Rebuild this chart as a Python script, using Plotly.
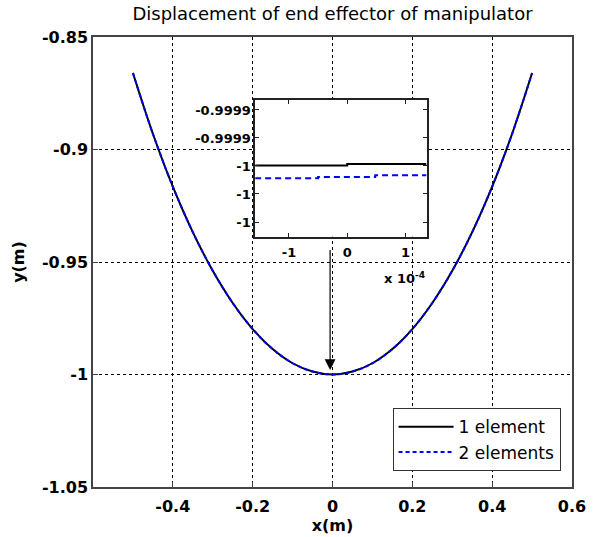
import plotly.graph_objects as go

# ---- data ----
x_main = [-0.50, -0.45, -0.40, -0.35, -0.30, -0.25, -0.20, -0.15, -0.10, -0.05, 0.00,
          0.05, 0.10, 0.15, 0.20, 0.25, 0.30, 0.35, 0.40, 0.45, 0.50]
y_one = [-0.8660, -0.8930, -0.9165, -0.9367, -0.9539, -0.9682, -0.9798, -0.9887, -0.9950, -0.9987, -1.0000,
         -0.9987, -0.9950, -0.9887, -0.9798, -0.9682, -0.9539, -0.9367, -0.9165, -0.8930, -0.8660]
y_two = [-0.8660, -0.8930, -0.9165, -0.9367, -0.9539, -0.9682, -0.9798, -0.9887, -0.9950, -0.9987, -1.0000,
         -0.9987, -0.9950, -0.9887, -0.9798, -0.9682, -0.9539, -0.9367, -0.9165, -0.8930, -0.8660]

# inset (zoom near the bottom of the curve)
x_in_one = [-1.58e-4, 0.0, 1.36e-4]
y_in_one = [-0.9999996, -0.9999986, -0.9999986]
x_in_two = [-1.58e-4, -0.5e-4, 0.48e-4, 1.36e-4]
y_in_two = [-1.0000088, -1.0000079, -1.0000066, -1.0000066]

x_ticks = [-0.4, -0.2, 0.0, 0.2, 0.4, 0.6]
x_ticktext = ['-0.4', '-0.2', '0', '0.2', '0.4', '0.6']
y_ticks = [-1.05, -1.0, -0.95, -0.9, -0.85]
y_ticktext = ['-1.05', '-1', '-0.95', '-0.9', '-0.85']
xin_ticks = [-1e-4, 0.0, 1e-4]
xin_ticktext = ['-1', '0', '1']
yin_ticks = [-0.99996, -0.99998, -1.0, -1.00002, -1.00004]
yin_ticktext = ['-0.9999', '-0.9999', '-1', '-1', '-1']

arrow_x = -0.006
arrow_tip_y = -0.998
arrow_tail_y = -0.944

FONT = 'DejaVu Sans'
AX = '#444444'

fig = go.Figure()
fig.add_trace(go.Scatter(x=x_main, y=y_one, mode='lines', name='1 element',
                         line=dict(color='black', width=2, shape='spline'),
                         xaxis='x', yaxis='y'))
fig.add_trace(go.Scatter(x=x_main, y=y_two, mode='lines', name='2 elements',
                         line=dict(color='#0000ff', width=2, dash='4px,3px', shape='spline'),
                         xaxis='x', yaxis='y'))
fig.add_trace(go.Scatter(x=x_in_one, y=y_in_one, mode='lines', showlegend=False,
                         line=dict(color='black', width=2, shape='hv'),
                         xaxis='x2', yaxis='y2'))
fig.add_trace(go.Scatter(x=x_in_two, y=y_in_two, mode='lines', showlegend=False,
                         line=dict(color='#0000ff', width=2, dash='6px,4px', shape='hv'),
                         xaxis='x2', yaxis='y2'))

main_axis = dict(showgrid=True, gridcolor='black', gridwidth=1, griddash='3px,3px',
                 showline=True, mirror=True, linecolor=AX, linewidth=1.5,
                 ticks='inside', ticklen=5, tickcolor=AX, zeroline=False,
                 tickfont=dict(family=FONT, size=16, color='black', weight='bold'))
inset_axis = dict(showgrid=False, showline=True, mirror='ticks', linecolor='#222222', linewidth=1.5,
                  ticks='inside', ticklen=4, tickcolor='#222222', zeroline=False,
                  tickfont=dict(family=FONT, size=13, color='black', weight='bold'))

fig.update_layout(
    width=595, height=537,
    margin=dict(l=92.5, r=22.5, t=37, b=50, autoexpand=False),
    paper_bgcolor='white', plot_bgcolor='white',
    title=dict(text='Displacement of end effector of manipulator',
               font=dict(family=FONT, size=18, color='black'),
               x=0.5, xref='paper', xanchor='center', y=1 - 14 / 537, yref='container', yanchor='middle'),
    xaxis=dict(range=[-0.6, 0.6], tickvals=x_ticks, ticktext=x_ticktext, domain=[0, 1],
               title=dict(text='<b>x(m)</b>', font=dict(family=FONT, size=16, color='black'), standoff=3),
               ticklabelstandoff=4, **main_axis),
    yaxis=dict(range=[-1.05, -0.85], tickvals=y_ticks, ticktext=y_ticktext, domain=[0, 1],
               title=dict(text='<b>y(m)</b>', font=dict(family=FONT, size=16, color='black'), standoff=13),
               **main_axis),
    xaxis2=dict(domain=[0.3385, 0.6963], anchor='y2', range=[-1.58e-4, 1.36e-4],
                tickvals=xin_ticks, ticktext=xin_ticktext, ticklabelstandoff=3, **inset_axis),
    yaxis2=dict(domain=[0.5562, 0.86], anchor='x2', range=[-1.0000505, -0.9999529],
                tickvals=yin_ticks, ticktext=yin_ticktext, **inset_axis),
    legend=dict(x=0.6254, y=0.1749, xanchor='left', yanchor='top',
                bgcolor='white', bordercolor='#333333', borderwidth=1,
                font=dict(family=FONT, size=17, color='black'),
                itemwidth=55, tracegroupgap=2),
    showlegend=True,
)

fig.add_shape(type='rect', xref='x2 domain', yref='y2 domain', x0=0, x1=1, y0=0, y1=1,
              fillcolor='white', line=dict(width=0), layer='below')

fig.add_annotation(x=arrow_x, y=arrow_tip_y, ax=arrow_x, ay=arrow_tail_y,
                   xref='x', yref='y', axref='x', ayref='y', text='',
                   showarrow=True, arrowhead=2, arrowsize=1.8, arrowwidth=1.2, arrowcolor='black')
fig.add_annotation(x=1.0, y=-0.30, xref='x2 domain', yref='y2 domain', xanchor='right', yanchor='middle',
                   text='<b>x 10<sup>-4</sup></b>', showarrow=False,
                   font=dict(family=FONT, size=13, color='black'))

fig.write_html('out.html')
